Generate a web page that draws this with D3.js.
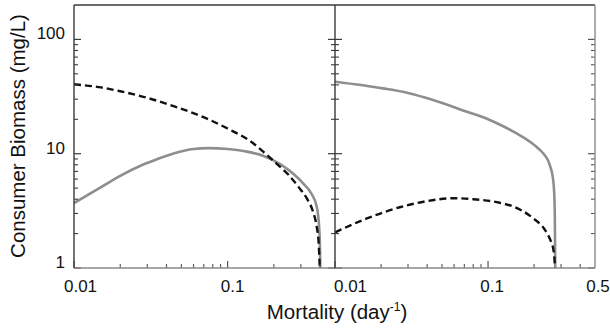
<!DOCTYPE html>
<html><head><meta charset="utf-8">
<script src="https://cdn.jsdelivr.net/npm/d3@7"></script>
<style>body{margin:0;background:#fff}svg{display:block}text{font-family:"Liberation Sans",Arial,Helvetica,sans-serif;fill:#111}</style>
</head><body><svg id="c" width="610" height="329"></svg>
<script>
// ---- data ----
const leftDashedM = [0.01,0.015,0.02,0.03,0.045,0.066,0.1,0.146,0.175,0.208,0.25,0.29,0.33,0.36,0.38,0.392,0.398];
const leftDashedB = [40.5,38.0,35.2,30.8,25.9,21.5,16.6,12.4,10.1,8.2,6.5,5.1,4.0,3.1,2.3,1.6,1.0];
const leftGrayM = [0.01,0.015,0.02,0.028,0.035,0.045,0.06,0.075,0.1,0.13,0.17,0.22,0.27,0.31,0.35,0.38,0.394,0.399,0.401];
const leftGrayB = [3.7,5.1,6.4,8.0,9.0,10.1,11.0,11.2,11.0,10.5,9.6,8.1,6.6,5.5,4.5,3.45,2.3,1.5,1.0];
const rightGrayM = [0.01,0.0206,0.03,0.0438,0.072,0.1,0.119,0.153,0.19,0.215,0.232,0.246,0.256,0.265,0.27,0.273,0.275];
const rightGrayB = [42.6,37.3,34,29.5,23.4,20,18.0,15.1,12.6,11.0,9.9,8.8,7.6,6.2,4.8,3.0,1.0];
const rightDashedM = [0.01,0.016,0.0265,0.04,0.059,0.08,0.119,0.146,0.196,0.239,0.258,0.266,0.271,0.274];
const rightDashedB = [2.05,2.7,3.4,3.85,4.08,4.0,3.72,3.45,2.74,2.09,1.7,1.5,1.25,1.0];
const yMajor = [1,10,100];
const yMinor = [2,3,4,5,6,7,8,9,20,30,40,50,60,70,80,90];
const xMajor = [0.01,0.1];
const xMinor = [0.02,0.03,0.04,0.05,0.06,0.07,0.08,0.09,0.2,0.3,0.4];
const leftXLabels = ["0.01","0.1"];
const rightXLabels = ["0.01","0.1","0.5"];
const yLabels = ["1","10","100"];

const svg = d3.select("#c");
const pTop = 5, pBottom = 268;
const y = d3.scaleLog().domain([1,200]).range([pBottom, pTop]);
const xL = d3.scaleLog().domain([0.01,0.5]).range([74,335]);
const xR = d3.scaleLog().domain([0.01,0.5]).range([335,595]);
const dark = "#3a3a3a", grayAx = "#8a8a8a";

// clip paths
const defs = svg.append("defs");
[["cl",xL],["cr",xR]].forEach(([id,x])=>{
  defs.append("clipPath").attr("id",id).append("rect")
    .attr("x",x.range()[0]).attr("y",pTop).attr("width",x.range()[1]-x.range()[0]).attr("height",pBottom-pTop);
});

// curves
function drawLine(x, ms, bs, clip, dashed){
  const pts = ms.map((m,i)=>[m,bs[i]]);
  const line = d3.line().x(d=>x(d[0])).y(d=>y(d[1])).curve(d3.curveMonotoneX);
  svg.append("path").attr("d",line(pts)).attr("clip-path",`url(#${clip})`)
    .attr("fill","none")
    .attr("stroke", dashed ? "#111" : "#8e8e8e")
    .attr("stroke-width", dashed ? 2.4 : 2.6)
    .attr("stroke-dasharray", dashed ? "7,4" : null);
}
drawLine(xL, leftGrayM, leftGrayB, "cl", false);
drawLine(xL, leftDashedM, leftDashedB, "cl", true);
drawLine(xR, rightGrayM, rightGrayB, "cr", false);
drawLine(xR, rightDashedM, rightDashedB, "cr", true);

// y ticks
function yTicks(xpos, dir, color){
  yMajor.forEach(v=>svg.append("line").attr("x1",xpos).attr("x2",xpos+dir*7).attr("y1",y(v)).attr("y2",y(v)).attr("stroke",color).attr("stroke-width",1.2));
  yMinor.forEach(v=>svg.append("line").attr("x1",xpos).attr("x2",xpos+dir*4).attr("y1",y(v)).attr("y2",y(v)).attr("stroke",color).attr("stroke-width",1.1));
}
yTicks(74, 1, dark);
yTicks(335, -1, dark);
yTicks(335, 1, dark);
yTicks(595, -1, "#555");

// x ticks
function xTicks(x){
  xMajor.forEach(v=>svg.append("line").attr("x1",x(v)).attr("x2",x(v)).attr("y1",pBottom).attr("y2",pBottom-7).attr("stroke","#555").attr("stroke-width",1.2));
  xMinor.forEach(v=>svg.append("line").attr("x1",x(v)).attr("x2",x(v)).attr("y1",pBottom).attr("y2",pBottom-4).attr("stroke","#555").attr("stroke-width",1.1));
}
xTicks(xL); xTicks(xR);

// frame
svg.append("line").attr("x1",74).attr("x2",595).attr("y1",pTop).attr("y2",pTop).attr("stroke",dark).attr("stroke-width",1.3);
svg.append("line").attr("x1",74).attr("x2",595).attr("y1",pBottom).attr("y2",pBottom).attr("stroke",grayAx).attr("stroke-width",1.6);
svg.append("line").attr("x1",74).attr("x2",74).attr("y1",pTop).attr("y2",pBottom).attr("stroke",dark).attr("stroke-width",1.4);
svg.append("line").attr("x1",335).attr("x2",335).attr("y1",pTop).attr("y2",pBottom).attr("stroke",dark).attr("stroke-width",1.4);
svg.append("line").attr("x1",595).attr("x2",595).attr("y1",pTop).attr("y2",pBottom).attr("stroke",grayAx).attr("stroke-width",1.4);

// y labels
yMajor.forEach((v,i)=>svg.append("text").attr("x",65).attr("y",y(v)).attr("text-anchor","end").attr("font-size",17).text(yLabels[i]));
// x labels
const lOff = [6.5,5];
xMajor.forEach((v,i)=>svg.append("text").attr("x",xL(v)+lOff[i]).attr("y",292).attr("text-anchor","middle").attr("font-size",17).text(leftXLabels[i]));
const rVals = [0.01,0.1,0.5], rOff = [15.5,4,3];
rVals.forEach((v,i)=>svg.append("text").attr("x",xR(v)+rOff[i]).attr("y",292).attr("text-anchor","middle").attr("font-size",17).text(rightXLabels[i]));

// titles
svg.append("text").attr("transform","translate(25,136) rotate(-90)").attr("text-anchor","middle").attr("font-size",20.5).text("Consumer Biomass (mg/L)");
const xt = svg.append("text").attr("x",337).attr("y",319).attr("text-anchor","middle").attr("font-size",20.5);
xt.append("tspan").text("Mortality (day");
xt.append("tspan").attr("font-size",12).attr("dy",-8).text("-1");
xt.append("tspan").attr("dy",8).text(")");
</script></body></html>
